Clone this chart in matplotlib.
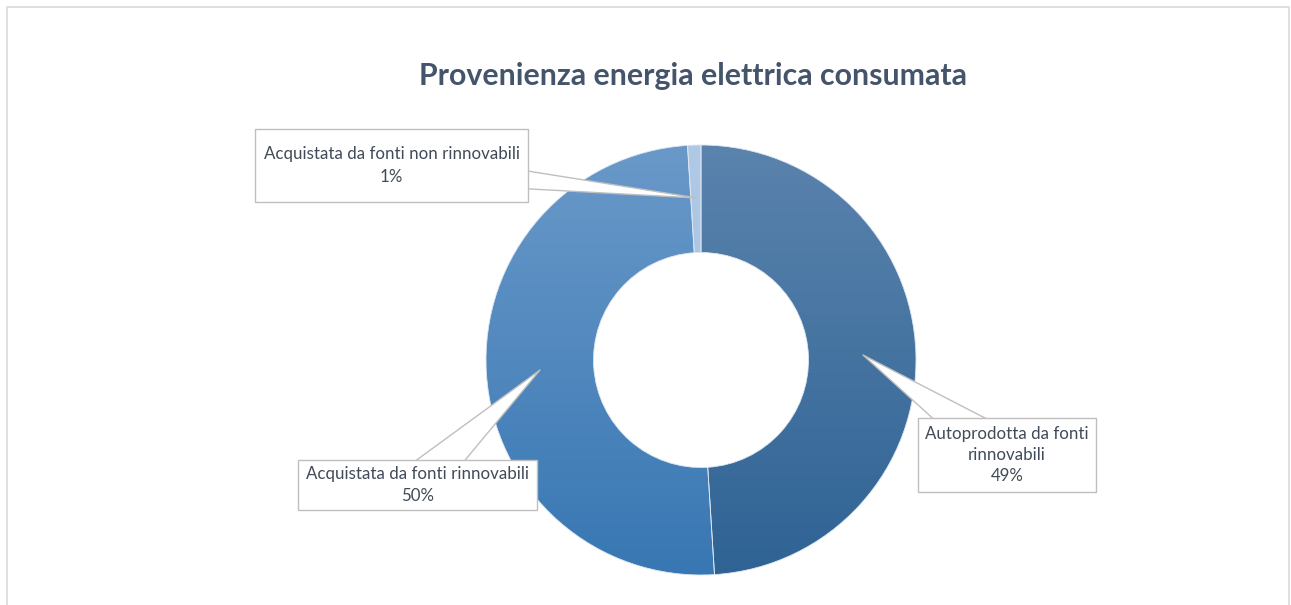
import matplotlib.pyplot as plt
import matplotlib.colors as mcolors
from matplotlib.patches import Rectangle
import numpy as np

# Data
categories = [
    "Autoprodotta da fonti\nrinnovabili",
    "Acquistata da fonti rinnovabili",
    "Acquistata da fonti non rinnovabili",
]
shares = [49, 50, 1]
# gradient colours per slice (top, bottom)
top_colors = ["#5a83ad", "#6a99c9", "#b0c9e6"]
bottom_colors = ["#2f6394", "#3877b3", "#a2bde0"]

# label box geometry in pixels (x0, y0 from top, w, h), arrow tip, wedge width
label_boxes = [(918, 418, 178, 74), (298, 460, 239, 50), (255, 129, 273, 73)]
label_tips = [(863, 355), (540, 370), (697, 198)]
wedge_widths = [33, 30, 23]
line_gaps = [1.42, 1.45, 1.6]

W, H = 1291, 605
fig = plt.figure(figsize=(W / 100, H / 100), dpi=100)
ax = fig.add_axes([0, 0, 1, 1])

cx, cy, R = 701, H - 360, 215

wedges, _ = ax.pie(shares, center=(cx, cy), radius=R, startangle=90,
                   counterclock=False, frame=True,
                   wedgeprops=dict(width=R * 0.5, edgecolor="#dce6f2", linewidth=0.6))
ax.set_xlim(0, W)
ax.set_ylim(0, H)
ax.axis("off")

for w, c1, c2 in zip(wedges, top_colors, bottom_colors):
    t = np.linspace(0, 1, 256)[:, None]
    a = np.array(mcolors.to_rgb(c1))
    b = np.array(mcolors.to_rgb(c2))
    grad = (a * (1 - t) + b * t)[:, None, :]
    im = ax.imshow(grad, extent=(cx - R, cx + R, cy - R, cy + R), origin="upper",
                   aspect="auto", zorder=0.5, interpolation="bilinear")
    im.set_clip_path(w)
    w.set_facecolor("none")
    w.set_zorder(1)

# callout labels
for cat, val, (bx, by, bw, bh), tip, ww, ls in zip(categories, shares, label_boxes,
                                                   label_tips, wedge_widths, line_gaps):
    centre = (bx + bw / 2, H - (by + bh / 2))
    ax.annotate("", xy=(tip[0], H - tip[1]), xytext=centre, zorder=2,
                arrowprops=dict(arrowstyle=f"wedge,tail_width={ww}", mutation_scale=1,
                                fc="white", ec="#bfbfbf", lw=1, shrinkA=0, shrinkB=0))
    ax.add_patch(Rectangle((bx, H - by - bh), bw, bh, fc="white", ec="#bfbfbf", lw=1, zorder=3))
    ax.text(centre[0], centre[1], f"{cat}\n{val}%", ha="center", va="center",
            fontsize=12.2, family="Lato", color="#404a58", linespacing=ls, zorder=4)

ax.text(693, H - 76, "Provenienza energia elettrica consumata", ha="center", va="center",
        fontsize=21.8, fontweight="bold", family="Lato", color="#44546a")

# chart area border
ax.add_patch(Rectangle((7, -5), 1282, H - 7 + 5, fc="none", ec="#d9d9d9", lw=1.2, zorder=0))

fig.savefig("out.png", dpi=100)
